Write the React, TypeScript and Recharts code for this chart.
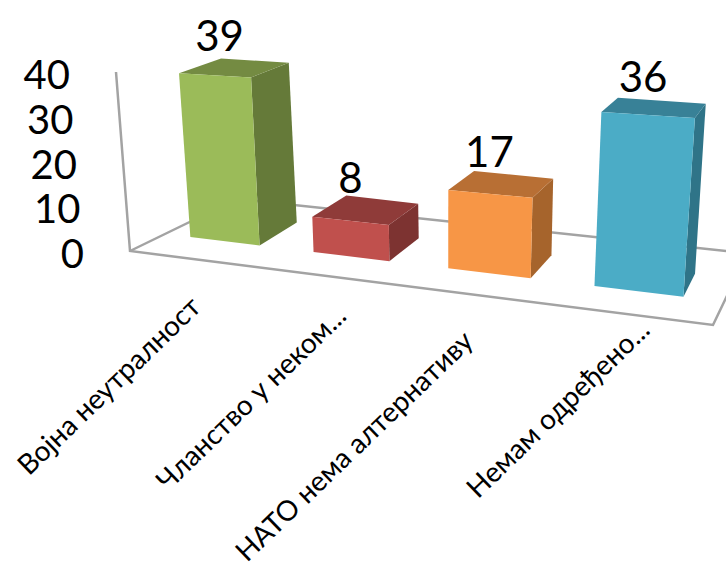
import { BarChart, Bar, XAxis, YAxis, LabelList } from "recharts";

const categories = [
  "Војна неутралност",
  "Чланство у неком...",
  "НАТО нема алтернативу",
  "Немам одређено...",
];
const shares = [39, 8, 17, 36];
const valueTicks = [0, 10, 20, 30, 40];

const FRONT_COLORS = ["#9BBB59", "#C0504D", "#F79646", "#4BACC6"];
const TOP_COLORS = ["#748B42", "#8F3B39", "#B86F34", "#388197"];
const SIDE_COLORS = ["#657A39", "#7D3331", "#A6642C", "#2F7488"];

const FONT = "Lato, Carlito, sans-serif";
const AXIS_COLOR = "#a3a3a3";

// flat plot rectangle the library lays out; project() tilts it into the box view
const PLOT = { left: 100, width: 600, top: 70, height: 168 };

// where each category label ends, relative to its bar centre on the floor
const LABEL_ENDS = [
  { dx: -22, y: 309 },
  { dx: -3, y: 318 },
  { dx: -14, y: 343 },
  { dx: 13, y: 332 },
];

function floorX(x: number) {
  const u = (4 * (x - PLOT.left)) / PLOT.width - 0.5;
  return 224.5 + 120.75 * u + 5.75 * u * u;
}

function project(x: number, h: number, depth = 0) {
  const X = floorX(x);
  const base = 237 + 0.121 * (X - 190);
  const rise = h * (1 + (X - 190) * 0.00037);
  const fx = X + (X - 447) * 0.00027 * rise;
  const fy = base - rise;
  return {
    x: fx + (42 - (fx - 180) * 0.0605) * depth,
    y: fy + (-23 + 0.05 * rise) * depth,
  };
}

function pts(list: { x: number; y: number }[]) {
  return list.map((p) => `${p.x},${p.y}`).join(" ");
}

function Box3D(props: any) {
  const { x, width, height, index } = props;
  const l = x;
  const r = x + width;
  const side = [project(r, 0), project(r, height), project(r, height, 1), project(r, 0, 1)];
  const top = [project(l, height), project(r, height), project(r, height, 1), project(l, height, 1)];
  const front = [project(l, 0), project(r, 0), project(r, height), project(l, height)];
  return (
    <g>
      <polygon points={pts(side)} fill={SIDE_COLORS[index]} />
      <polygon points={pts(top)} fill={TOP_COLORS[index]} />
      <polygon points={pts(front)} fill={FRONT_COLORS[index]} />
    </g>
  );
}

function ValueLabel(props: any) {
  const { x, width, height, value } = props;
  const mid = x + width / 2;
  const foot = project(mid, 0);
  const head = project(mid, height);
  const back = project(mid, height, 1);
  return (
    <text
      x={(foot.x + head.x) / 2}
      y={back.y - 6 - height * 0.02}
      textAnchor="middle"
      fontFamily={FONT}
      fontSize={42}
      fill="#000"
    >
      {value}
    </text>
  );
}

function ValueTick(props: any) {
  const { y, payload } = props;
  const frac = (PLOT.top + PLOT.height - y) / PLOT.height;
  return (
    <text
      x={130 - 14 * frac - 46}
      y={251 - 179 * frac + 17}
      textAnchor="end"
      fontFamily={FONT}
      fontSize={40}
      fill="#000"
    >
      {payload.value}
    </text>
  );
}

function CategoryTick(props: any) {
  const { x, payload, index } = props;
  const end = LABEL_ENDS[index];
  const ex = project(x, 0).x + end.dx;
  return (
    <text
      x={ex}
      y={end.y}
      textAnchor="end"
      fontFamily={FONT}
      fontSize={28}
      fill="#000"
      transform={`rotate(-44 ${ex} ${end.y})`}
    >
      {payload.value}
    </text>
  );
}

// wall edge and floor outline behind the boxes
function Frame() {
  return (
    <g fill="none" stroke={AXIS_COLOR} strokeWidth={2.5}>
      <polyline points="116,72 130,251 713,325 735,279" />
      <polyline points="130,251 237,199 735,252" />
    </g>
  );
}

const rows = categories.map((name, i) => ({ name, share: shares[i] }));

export default function App() {
  return (
    <div style={{ position: "absolute", left: 0, top: 0, width: 726, height: 569, overflow: "hidden" }}>
      <BarChart
        width={726}
        height={569}
        data={rows}
        barSize={86}
        margin={{ top: PLOT.top, left: 60, right: 26, bottom: 271 }}
      >
        <Frame />
        <XAxis
          dataKey="name"
          height={60}
          interval={0}
          axisLine={false}
          tickLine={false}
          tick={CategoryTick}
        />
        <YAxis
          width={40}
          domain={[0, 40]}
          ticks={valueTicks}
          axisLine={false}
          tickLine={false}
          tick={ValueTick}
        />
        <Bar dataKey="share" shape={Box3D} isAnimationActive={false}>
          <LabelList dataKey="share" content={ValueLabel} />
        </Bar>
      </BarChart>
    </div>
  );
}
